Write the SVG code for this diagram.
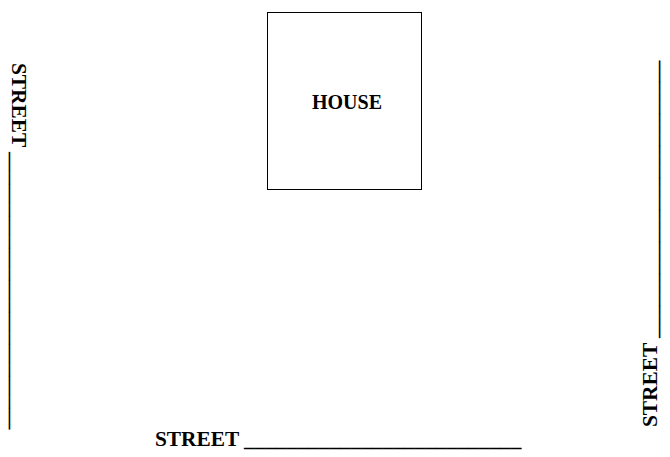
<svg xmlns="http://www.w3.org/2000/svg" width="670" height="457" viewBox="0 0 670 457">
<style>
.t{font-family:"Liberation Serif","Times New Roman",serif;font-weight:bold;font-size:21.33px;fill:#000}
.h{font-family:"Liberation Serif","Times New Roman",serif;font-weight:bold;font-size:20px;fill:#000}
</style>
<rect width="670" height="457" fill="#fff"/>
<g id="house">
<rect x="267.5" y="12.5" width="154" height="177" fill="none" stroke="#000" stroke-width="1"/>
<text class="h" x="347" y="109" text-anchor="middle">HOUSE</text>
</g>
<g id="street-left">
<text class="t" transform="translate(12,63) rotate(90)">STREET __________________________</text>
</g>
<g id="street-right">
<text class="t" transform="translate(657,427) rotate(-90)">STREET __________________________</text>
</g>
<g id="street-bottom">
<text class="t" x="155" y="446">STREET __________________________</text>
</g>
</svg>
